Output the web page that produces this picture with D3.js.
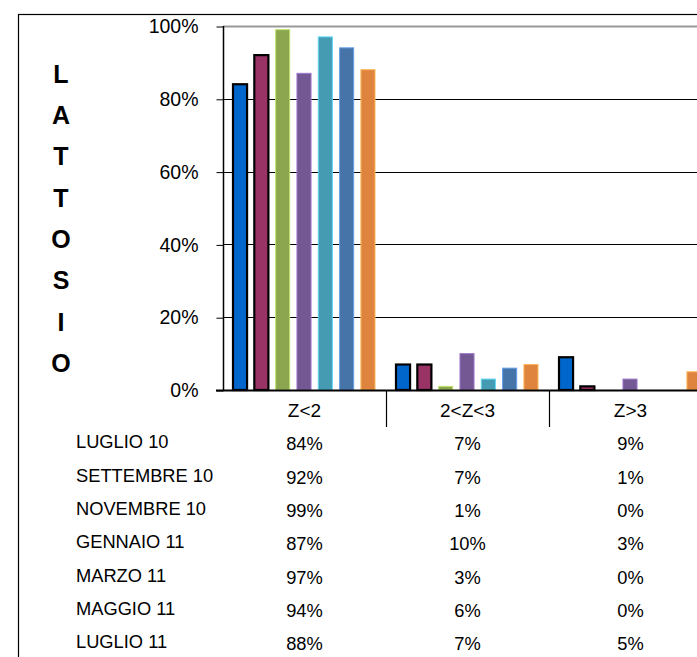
<!DOCTYPE html>
<html>
<head>
<meta charset="utf-8">
<script src="https://cdn.jsdelivr.net/npm/d3@7"></script>
<style>
  html, body { margin: 0; padding: 0; background: #fff; }
  svg { display: block; font-family: Arial, "Liberation Sans", sans-serif; }
</style>
</head>
<body>
<svg id="chart" width="697" height="657"></svg>
<script>
// data
const categories = ["Z<2", "2<Z<3", "Z>3"];
const periods = ["LUGLIO 10", "SETTEMBRE 10", "NOVEMBRE 10", "GENNAIO 11", "MARZO 11", "MAGGIO 11", "LUGLIO 11"];
const luglio10 = [84, 7, 9];
const settembre10 = [92, 7, 1];
const novembre10 = [99, 1, 0];
const gennaio11 = [87, 10, 3];
const marzo11 = [97, 3, 0];
const maggio11 = [94, 6, 0];
const luglio11 = [88, 7, 5];
const series = [luglio10, settembre10, novembre10, gennaio11, marzo11, maggio11, luglio11];
const colours = ["#0066cc", "#993366", "#8ba64f", "#735893", "#449bb2", "#4673a8", "#de843f"];
const yTicks = [0, 20, 40, 60, 80, 100];
const title = "LATTOSIO";

let svg = d3.select("#chart");

// layout
let plotLeft = 223, plotTop = 26, plotBottom = 390, catWidth = 163;

// outer frame (runs off the right and bottom of the picture)
svg.append("rect")
    .attr("x", 18.5).attr("y", 14.5)
    .attr("width", 900).attr("height", 900)
    .attr("fill", "none").attr("stroke", "#000").attr("stroke-width", 1.2);

let y = d3.scaleLinear().domain([0, 100]).range([plotBottom, plotTop]);
let x0 = d3.scaleBand().domain(categories).range([plotLeft, plotLeft + catWidth * categories.length]);
let x1 = d3.scaleBand().domain(d3.range(series.length))
    .range([10, catWidth - 11]).paddingInner(0.34);

// gridlines
svg.append("g").selectAll("line")
    .data(yTicks.filter(t => t > 0))
    .join("line")
    .attr("x1", plotLeft).attr("x2", 720)
    .attr("y1", d => Math.round(y(d)) + 0.5).attr("y2", d => Math.round(y(d)) + 0.5)
    .attr("stroke", d => d == 100 ? "#999" : "#000")
    .attr("stroke-width", d => d == 100 ? 2 : 1);

// y axis
let yAxis = d3.axisLeft(y).tickValues(yTicks).tickSize(7).tickFormat(d => d + "%");
let ya = svg.append("g").attr("transform", "translate(" + (plotLeft + 0.5) + ",0.5)").call(yAxis);
ya.select(".domain").attr("stroke", "#000").attr("stroke-width", 1.5)
    .attr("d", "M0," + (plotTop - 0.5) + "V" + (plotBottom - 0.5));
ya.selectAll(".tick line").attr("stroke", "#000");
ya.selectAll(".tick text")
    .attr("x", -25).attr("fill", "#000")
    .style("font-size", "19.5px").style("font-family", "Arial, 'Liberation Sans', sans-serif");

// bars
let groups = svg.append("g").selectAll("g")
    .data(categories)
    .join("g")
    .attr("transform", d => "translate(" + x0(d) + ",0)");

groups.selectAll("rect")
    .data((c, ci) => series.map((s, si) => ({ si: si, v: s[ci] })).filter(d => d.v > 0))
    .join("rect")
    .attr("x", d => x1(d.si))
    .attr("y", d => y(d.v))
    .attr("width", x1.bandwidth())
    .attr("height", d => plotBottom - y(d.v))
    .attr("fill", d => colours[d.si])
    .attr("stroke", d => d.si < 2 ? "#000" : d3.color(colours[d.si]).brighter(0.9))
    .attr("stroke-width", d => d.si < 2 ? 2.2 : 1);

// x axis line
svg.append("line")
    .attr("x1", plotLeft - 7).attr("x2", 720)
    .attr("y1", plotBottom + 0.5).attr("y2", plotBottom + 0.5)
    .attr("stroke", "#000").attr("stroke-width", 2);

// category separators
svg.append("g").selectAll("line")
    .data(categories.slice(1))
    .join("line")
    .attr("x1", d => x0(d) + 0.5).attr("x2", d => x0(d) + 0.5)
    .attr("y1", plotBottom).attr("y2", 427)
    .attr("stroke", "#000").attr("stroke-width", 1.2);

// category labels
svg.append("g").selectAll("text")
    .data(categories)
    .join("text")
    .attr("x", d => x0(d) + catWidth / 2)
    .attr("y", 410)
    .attr("dy", "0.35em")
    .attr("text-anchor", "middle")
    .style("font-size", "19px")
    .text(d => d);

// data table
let rowY = d3.scaleLinear().domain([0, periods.length - 1]).range([443, 643]);
let rows = svg.append("g").selectAll("g")
    .data(periods)
    .join("g");

rows.append("text")
    .attr("x", 76)
    .attr("y", (d, i) => rowY(i) - 1)
    .attr("dy", "0.35em")
    .style("font-size", "18.3px")
    .text(d => d);

rows.selectAll("text.val")
    .data((p, i) => series[i].map((v, ci) => ({ v: v, c: categories[ci], i: i })))
    .join("text")
    .attr("class", "val")
    .attr("x", d => x0(d.c) + catWidth / 2)
    .attr("y", d => rowY(d.i) + 1)
    .attr("dy", "0.35em")
    .attr("text-anchor", "middle")
    .style("font-size", "18.3px")
    .text(d => d.v + "%");

// vertical title
svg.append("g").selectAll("text")
    .data(title.split(""))
    .join("text")
    .attr("x", 61)
    .attr("y", (d, i) => 74 + i * 41.3)
    .attr("dy", "0.35em")
    .attr("text-anchor", "middle")
    .style("font-size", "25px")
    .style("font-weight", "bold")
    .text(d => d);
</script>
</body>
</html>
